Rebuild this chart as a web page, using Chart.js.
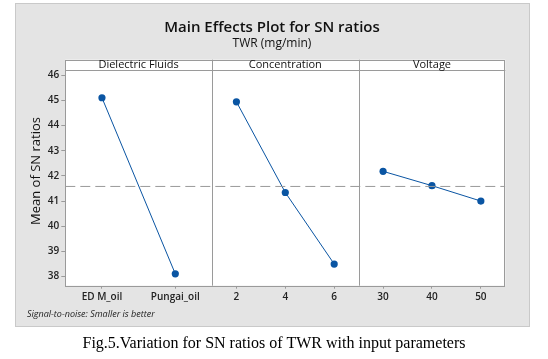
<!DOCTYPE html>
<html lang="en">
<head>
<meta charset="UTF-8">
<title>Main Effects Plot for SN ratios</title>
<script src="https://cdn.jsdelivr.net/npm/chart.js"></script>
<style>
    body { margin: 0; background: #ffffff; }
    canvas { display: block; }
</style>
</head>
<body>
<canvas id="snChart" width="548" height="359"></canvas>
<script>
// data
const factorNames = ['Dielectric Fluids', 'Concentration', 'Voltage'];
const dielectricLevels = ['ED M_oil', 'Pungai_oil'];
const dielectricSN = [45.10, 38.11];
const concentrationLevels = ['2', '4', '6'];
const concentrationSN = [44.94, 41.34, 38.50];
const voltageLevels = ['30', '40', '50'];
const voltageSN = [42.18, 41.61, 41.00];
const meanSN = 41.58;
const yTickValues = [38, 39, 40, 41, 42, 43, 44, 45, 46];

const panels = [
    { levels: dielectricLevels, values: dielectricSN },
    { levels: concentrationLevels, values: concentrationSN },
    { levels: voltageLevels, values: voltageSN }
];

// each factor gets one unit on the x axis, levels sit at category centres
function panelPoints(p) {
    const n = panels[p].levels.length;
    return panels[p].values.map((v, i) => ({ x: p + (i + 0.5) / n, y: v }));
}
const tickPositions = [];
const tickLabels = [];
panels.forEach((panel, p) => {
    panel.levels.forEach((lab, i) => {
        tickPositions.push(p + (i + 0.5) / panel.levels.length);
        tickLabels.push(lab);
    });
});

const blue = '#0a55a3';
const gray = '#9a9a9a';
const uiFont = '"Open Sans", "Noto Sans", sans-serif';

const lineSet = (p) => ({
    data: panelPoints(p),
    borderColor: blue,
    backgroundColor: blue,
    borderWidth: 1,
    pointRadius: 3.6,
    pointStyle: 'circle',
    pointBorderWidth: 0,
    tension: 0
});

const framePlugin = {
    id: 'frame',
    beforeDraw(chart) {
        const c = chart.ctx, a = chart.chartArea;
        c.save();
        c.fillStyle = '#ffffff';
        c.fillRect(0, 0, chart.width, chart.height);
        c.fillStyle = '#e4e4e4';
        c.fillRect(15, 3, 514, 323);
        c.strokeStyle = '#c9c9c9';
        c.lineWidth = 1;
        c.strokeRect(15.5, 3.5, 514, 323);
        c.fillStyle = '#ffffff';
        c.fillRect(a.left, a.top, a.right - a.left, a.bottom - a.top);
        c.restore();
    },
    afterDraw(chart) {
        const c = chart.ctx, a = chart.chartArea, xs = chart.scales.x;
        const headTop = a.top - 10.6;
        c.save();
        // header strip
        c.fillStyle = '#ffffff';
        c.fillRect(a.left, headTop, a.right - a.left, a.top - headTop);
        c.strokeStyle = gray;
        c.lineWidth = 1;
        c.strokeRect(Math.round(a.left) + 0.5, Math.round(headTop) + 0.5,
            Math.round(a.right - a.left) - 1, Math.round(a.bottom - headTop));
        c.beginPath();
        c.moveTo(a.left, Math.round(a.top) + 0.5);
        c.lineTo(a.right, Math.round(a.top) + 0.5);
        for (let p = 1; p < panels.length; p++) {
            const x = Math.round(xs.getPixelForValue(p)) + 0.5;
            c.moveTo(x, headTop);
            c.lineTo(x, a.bottom);
        }
        c.stroke();
        c.fillStyle = '#111111';
        c.font = '11px ' + uiFont;
        c.textAlign = 'center';
        c.textBaseline = 'middle';
        factorNames.forEach((name, p) => {
            const cx = (xs.getPixelForValue(p) + xs.getPixelForValue(p + 1)) / 2;
            c.fillText(name, cx, headTop + 5.6);
        });
        // y axis title
        c.save();
        c.translate(36, 171);
        c.rotate(-Math.PI / 2);
        c.font = '13px ' + uiFont;
        c.fillStyle = '#111111';
        c.fillText('Mean of SN ratios', 0, 0);
        c.restore();
        // footnote
        c.font = 'italic 9px ' + uiFont;
        c.textAlign = 'left';
        c.fillStyle = '#222222';
        c.fillText('Signal-to-noise: Smaller is better', 27, 314.5);
        // caption under the frame
        c.font = '16px "Liberation Serif", "Times New Roman", serif';
        c.textAlign = 'center';
        c.fillStyle = '#000000';
        c.fillText('Fig.5.Variation for SN ratios of TWR with input parameters', 274, 344);
        c.restore();
    }
};

const ctx = document.getElementById('snChart').getContext('2d');
const snChart = new Chart(ctx, {
    type: 'line',
    data: {
        datasets: [
            {
                data: [{ x: 0, y: meanSN }, { x: panels.length, y: meanSN }],
                borderColor: gray,
                borderWidth: 1,
                borderDash: [10, 5],
                pointRadius: 0
            },
            lineSet(0),
            lineSet(1),
            lineSet(2)
        ]
    },
    options: {
        responsive: false,
        animation: false,
        layout: { padding: { left: 15, right: 19, top: 3, bottom: 33 } },
        plugins: {
            legend: { display: false },
            tooltip: { enabled: false },
            title: {
                display: true,
                text: 'Main Effects Plot for SN ratios',
                color: '#111111',
                font: { family: uiFont, size: 15, weight: '600', lineHeight: 1.0 },
                padding: { top: 17.5, bottom: 0 }
            },
            subtitle: {
                display: true,
                text: 'TWR (mg/min)',
                color: '#111111',
                font: { family: uiFont, size: 12 },
                padding: { top: 1, bottom: 19.4 }
            }
        },
        scales: {
            x: {
                type: 'linear',
                min: 0,
                max: panels.length,
                afterBuildTicks(axis) {
                    axis.ticks = tickPositions.map(v => ({ value: v }));
                },
                afterFit(axis) { axis.height = 40.3; },
                grid: { drawOnChartArea: false, drawTicks: true, tickLength: 3, color: gray },
                border: { display: false },
                ticks: {
                    autoSkip: false,
                    maxRotation: 0,
                    padding: 2,
                    color: '#222222',
                    font: { family: uiFont, size: 10, weight: '600' },
                    callback: (v, i) => tickLabels[i]
                }
            },
            y: {
                min: 37.64,
                max: 46.19,
                afterBuildTicks(axis) {
                    axis.ticks = yTickValues.map(v => ({ value: v }));
                },
                afterFit(axis) { axis.width = 50.3; },
                grid: { drawOnChartArea: false, drawTicks: true, tickLength: 4, color: gray },
                border: { display: false },
                ticks: {
                    padding: 2,
                    color: '#222222',
                    font: { family: uiFont, size: 10, weight: '600' }
                }
            },
            yRight: {
                position: 'right',
                afterFit(axis) { axis.width = 23.7; },
                grid: { display: false },
                border: { display: false },
                ticks: { display: false }
            }
        }
    },
    plugins: [framePlugin]
});
</script>
</body>
</html>
